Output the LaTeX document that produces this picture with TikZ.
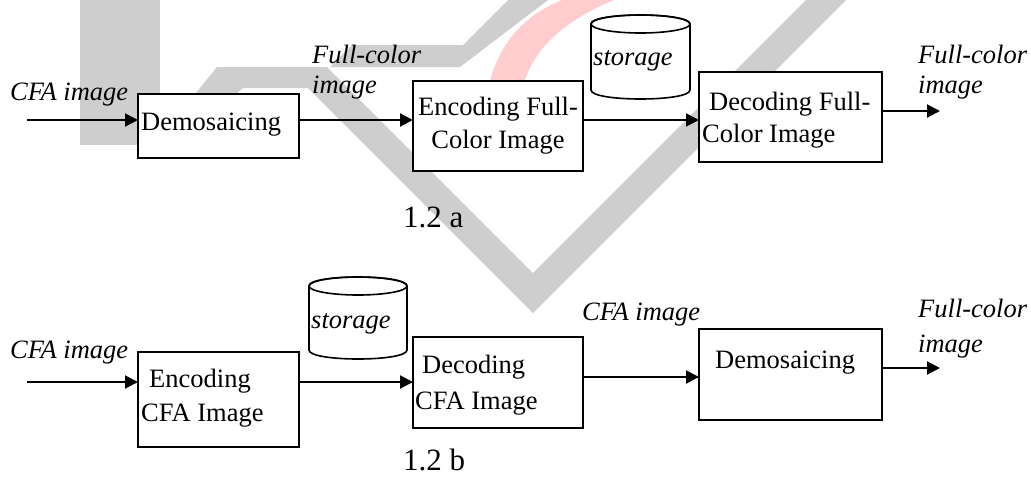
\documentclass[tikz,border=0pt]{standalone}
\usepackage{fontspec}
\setmainfont{Liberation Serif}
\usetikzlibrary{arrows.meta}
\definecolor{wmgrey}{RGB}{206,206,206}
\definecolor{wmred}{RGB}{255,205,205}
\begin{document}
\begin{tikzpicture}[x=1pt,y=-1pt,
  box/.style={draw,line width=2pt,fill=white,inner sep=0pt,outer sep=0pt},
  arr/.style={line width=2pt,-{Triangle[length=13pt,width=13pt]}},
  lbl/.style={inner sep=0pt,anchor=base west,font=\fontsize{26.5}{30}\selectfont},
  ilbl/.style={inner sep=0pt,anchor=base west,font=\fontsize{26.5}{30}\selectfont\itshape},
  captxt/.style={inner sep=0pt,anchor=base west,font=\fontsize{31}{35}\selectfont},
  cyl/.style={line width=1.6pt,fill=white,draw}]
\useasboundingbox (0,0) rectangle (1031,488);
\fill[white] (0,0) rectangle (1031,488);
% watermark
\begin{scope}
\clip (0,0) rectangle (1031,488);
\fill[wmgrey] (80,0) rectangle (160,145);
\fill[wmgrey] (217,67) -- (327,67) -- (533,273) -- (806,0) -- (846,0) -- (533,313) -- (308,88) -- (243,88) -- (200,125) -- (170,125) -- cycle;
\fill[wmgrey] (508,0) -- (548,0) -- (460,67) -- (330,67) -- (352,45) -- (463,45) -- cycle;
\fill[wmred] (488,90) .. controls (498,40) and (528,14) .. (562,0) -- (614,0) .. controls (566,20) and (532,48) .. (522,90) -- cycle;
\end{scope}
% ---- 1.2 a ----
\node[box,minimum width=161pt,minimum height=64pt] (demo1) at (218.5,126) {};
\node[box,minimum width=170pt,minimum height=90pt] (enc1) at (498,126) {};
\node[box,minimum width=183pt,minimum height=90pt] (dec1) at (790.5,117) {};
\path[cyl] (591,24) -- (591,90) .. controls (591,102) and (690,102) .. (690,90) -- (690,24) .. controls (690,12) and (591,12) .. (591,24) -- cycle;
\draw[line width=1.6pt] (640.5,24) ellipse [x radius=49.5, y radius=9];

\node[ilbl] (cfa1) at (10,100) {CFA image};
\node[ilbl] (fc1) at (312,63) {Full-color};
\node[ilbl] (im1) at (312,93) {image};
\node[lbl] (demo1t) at (141,130) {Demosaicing};
\node[lbl,anchor=base] (enc1a) at (498,115) {Encoding Full-};
\node[lbl,anchor=base] (enc1b) at (498,148) {Color Image};
\node[ilbl] (st1) at (593,65) {storage};
\node[lbl] (dec1a) at (709,110) {Decoding Full-};
\node[lbl] (dec1b) at (702,142) {Color Image};
\node[ilbl] (fc2) at (918,63) {Full-color};
\node[ilbl] (im2) at (918,93) {image};
\node[captxt] (capa) at (403,227) {1.2 a};

\coordinate (in1) at (27,120);
\coordinate (out1) at (940,111);
\draw[arr] (in1) -- (in1 -| demo1.west);
\draw[arr] (demo1.east |- in1) -- (enc1.west |- in1);
\draw[arr] (enc1.east |- in1) -- (dec1.west |- in1);
\draw[arr] (dec1.east |- out1) -- (out1);

% ---- 1.2 b ----
\node[box,minimum width=161pt,minimum height=95pt] (enc2) at (218.5,399.5) {};
\node[box,minimum width=170pt,minimum height=91pt] (dec2) at (498,382.5) {};
\node[box,minimum width=183pt,minimum height=91pt] (demo2) at (790.5,374.5) {};
\path[cyl] (309,286) -- (309,350) .. controls (309,362) and (407,362) .. (407,350) -- (407,286) .. controls (407,274) and (309,274) .. (309,286) -- cycle;
\draw[line width=1.6pt] (358,286) ellipse [x radius=49, y radius=9];

\node[ilbl] (cfa2) at (10,358) {CFA image};
\node[lbl] (enc2a) at (149,387) {Encoding};
\node[lbl] (enc2b) at (141,421) {CFA Image};
\node[ilbl] (st2) at (311,328) {storage};
\node[lbl] (dec2a) at (422,373) {Decoding};
\node[lbl] (dec2b) at (415,409) {CFA Image};
\node[ilbl] (cfa3) at (582,320) {CFA image};
\node[lbl] (demo2t) at (715,368) {Demosaicing};
\node[ilbl] (fc3) at (918,317) {Full-color};
\node[ilbl] (im3) at (918,352) {image};
\node[captxt] (capb) at (403,470) {1.2 b};

\coordinate (in2) at (27,382);
\coordinate (mid2) at (600,377);
\coordinate (out2) at (940,368);
\draw[arr] (in2) -- (in2 -| enc2.west);
\draw[arr] (enc2.east |- in2) -- (dec2.west |- in2);
\draw[arr] (dec2.east |- mid2) -- (demo2.west |- mid2);
\draw[arr] (demo2.east |- out2) -- (out2);
\end{tikzpicture}
\end{document}
